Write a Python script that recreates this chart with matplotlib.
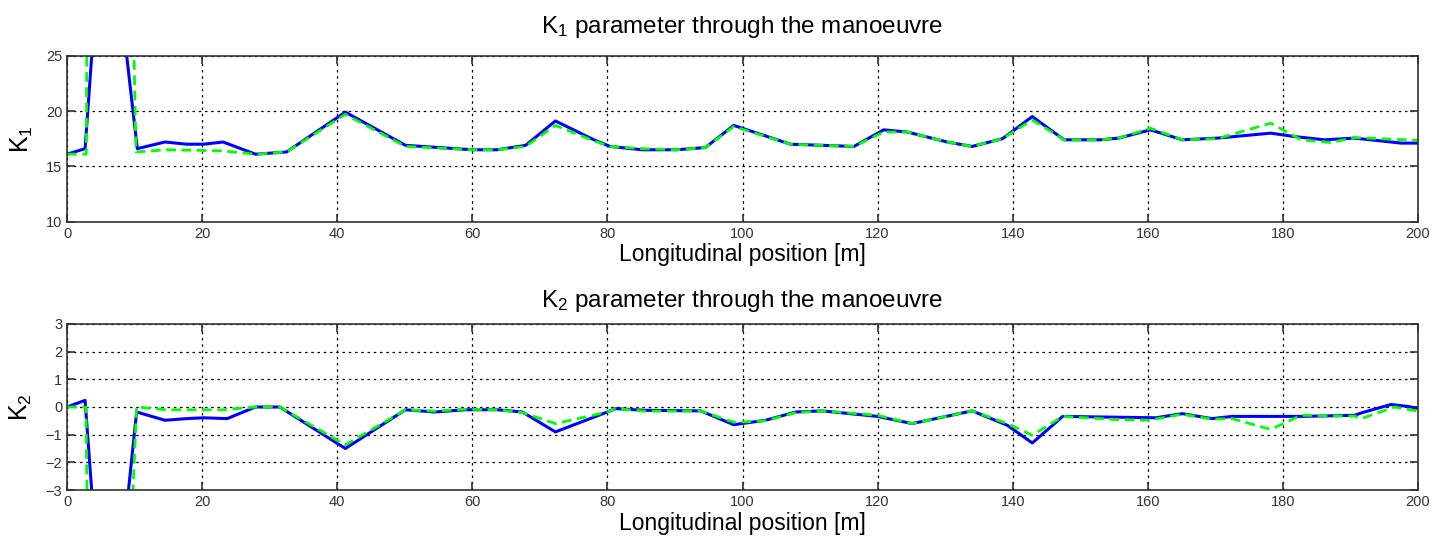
import matplotlib
matplotlib.use("Agg")
import matplotlib.pyplot as plt

plt.rcParams["font.family"] = ["Liberation Sans", "DejaVu Sans"]
plt.rcParams["mathtext.default"] = "regular"

# K1 parameter: solid blue and dashed green runs
k1_blue_x = [0, 2.67, 5.65, 10.4, 14.5, 17.7, 20.2, 23.1, 27.9, 32.5, 41.2, 50.1, 60, 63.7,
             67.9, 72.3, 78, 80.4, 85.1, 90.3, 94.5, 98.7, 107.1, 116.5, 120.9, 124.4, 130.3,
             134.0, 138.5, 142.9, 147.6, 153, 155.7, 160.4, 165.1, 170.3, 178.2, 181.6, 186.1,
             190.6, 194.5, 197.5, 200]
k1_blue_y = [16.1, 16.6, 42, 16.6, 17.2, 17.0, 17.0, 17.2, 16.1, 16.3, 19.9, 16.9, 16.5, 16.5,
             16.9, 19.1, 17.4, 16.8, 16.5, 16.5, 16.7, 18.7, 17.0, 16.8, 18.3, 18.1, 17.2,
             16.8, 17.5, 19.5, 17.4, 17.4, 17.55, 18.3, 17.4, 17.55, 18.0, 17.7, 17.4,
             17.55, 17.3, 17.1, 17.1]

k1_green_x = [0, 2.85, 3.0, 9.6, 10.2, 14.7, 23.0, 27.9, 32.5, 41.2, 50.1, 60, 63.7, 67.9,
              72.3, 78, 80.4, 85.1, 90.3, 94.5, 98.7, 107.1, 116.5, 120.9, 124.4, 130.3, 134.0,
              138.5, 142.9, 147.6, 153, 155.7, 160.4, 165.1, 170.3, 178.2, 182.7, 187.1,
              190.6, 200]
k1_green_y = [16.1, 16.1, 35, 35, 16.3, 16.5, 16.4, 16.1, 16.3, 19.7, 16.8, 16.5, 16.5, 16.8,
              18.7, 17.3, 16.8, 16.6, 16.5, 16.7, 18.6, 17.0, 16.8, 18.1, 18.1, 17.2, 16.8,
              17.5, 19.2, 17.4, 17.4, 17.55, 18.45, 17.4, 17.5, 18.9, 17.4, 17.15,
              17.6, 17.35]

# K2 parameter: solid blue and dashed green runs
k2_blue_x = [0, 2.67, 5.9, 10.3, 14.5, 17.7, 20.2, 23.7, 27.9, 31.5, 41.2, 50.1, 54.4, 59,
             63.7, 67.4, 72.3, 80, 81.2, 85.6, 93.8, 98.7, 103.4, 107.9, 111.8, 120, 125.1,
             134.0, 139.2, 142.9, 147.4, 161.2, 165.1, 169.5, 172.5, 182.7, 190.6, 191.8,
             196, 198.5, 200]
k2_blue_y = [0, 0.24, -10.5, -0.18, -0.48, -0.42, -0.39, -0.42, 0, 0, -1.5, -0.1, -0.18, -0.1,
             -0.1, -0.18, -0.9, -0.18, -0.06, -0.12, -0.14, -0.64, -0.48, -0.18, -0.14, -0.34,
             -0.6, -0.14, -0.66, -1.3, -0.34, -0.39, -0.24, -0.42, -0.34, -0.34, -0.3, -0.2,
             0.09, 0.02, -0.05]

k2_green_x = [0, 2.8, 3.05, 9.4, 10.3, 14.7, 23.1, 27.9, 31.5, 41.2, 50.1, 54.4, 59, 63.7,
              67.4, 72.3, 80, 81.2, 85.6, 93.8, 98.7, 103.4, 107.9, 111.8, 120, 125.1, 134.0,
              139.2, 142.9, 147.4, 155, 160.2, 165.1, 169.5, 172.5, 178.2, 182.7, 190.6,
              191.6, 196.5, 200]
k2_green_y = [0, 0, -5, -5, 0, -0.1, -0.1, 0, 0, -1.37, -0.1, -0.15, -0.08, -0.1,
              -0.2, -0.6, -0.18, -0.06, -0.15, -0.14, -0.55, -0.5, -0.2, -0.14, -0.3, -0.6,
              -0.14, -0.6, -1.02, -0.34, -0.45, -0.48, -0.26, -0.44, -0.42, -0.81, -0.3,
              -0.33, -0.42, 0, -0.15]

x_ticks = [0, 20, 40, 60, 80, 100, 120, 140, 160, 180, 200]
k1_ticks = [10, 15, 20, 25]
k2_ticks = [-3, -2, -1, 0, 1, 2, 3]

fig = plt.figure(figsize=(14.45, 5.39), dpi=100)
ax1 = fig.add_axes([0.0464, 0.5887, 0.9349, 0.3080])
ax2 = fig.add_axes([0.0464, 0.0909, 0.9349, 0.3080])


def style(ax, yticks, ylim, title, ylabel, title_pad):
    ax.set_xlim(0, 200)
    ax.set_ylim(*ylim)
    ax.set_xticks(x_ticks)
    ax.set_yticks(yticks)
    ax.grid(True, color="black", linestyle=(0, (2, 3)), linewidth=0.9)
    ax.tick_params(direction="in", top=True, right=True, length=6, width=1.2,
                   labelsize=10.5, labelcolor="#333333", color="#333333")
    for s in ax.spines.values():
        s.set_color("#333333")
        s.set_linewidth(1.2)
    ax.set_title(title, fontsize=17.5, pad=title_pad)
    ax.set_xlabel("Longitudinal position [m]", fontsize=16.5, labelpad=2)
    ax.set_ylabel(ylabel, fontsize=18, labelpad=8)


ax1.plot(k1_blue_x, k1_blue_y, color="#0000ff", linewidth=2.2)
ax1.plot(k1_green_x, k1_green_y, color="#00ff00", linewidth=2.0, linestyle=(0, (3.5, 2)))
style(ax1, k1_ticks, (10, 25), "$K_1$ parameter through the manoeuvre", "$K_1$", 16)

ax2.plot(k2_blue_x, k2_blue_y, color="#0000ff", linewidth=2.2)
ax2.plot(k2_green_x, k2_green_y, color="#00ff00", linewidth=2.0, linestyle=(0, (3.5, 2)))
style(ax2, k2_ticks, (-3, 3), "$K_2$ parameter through the manoeuvre", "$K_2$", 12)

fig.savefig("out.png", dpi=100)
